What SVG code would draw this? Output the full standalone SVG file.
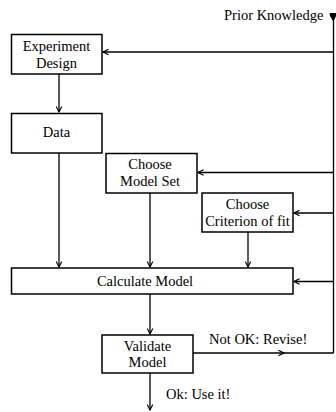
<svg xmlns="http://www.w3.org/2000/svg" width="336" height="412" viewBox="0 0 336 412">
<style>
.box{fill:#fff;stroke:#000;stroke-width:1.5}
.ln{fill:none;stroke:#000;stroke-width:1.3}
.t{font-family:'Liberation Serif','Times New Roman','DejaVu Serif',serif;font-size:14.5px;fill:#000}
.c{text-anchor:middle}
</style>
<defs>
<marker id="ah" viewBox="0 0 10 10" refX="9" refY="5" markerWidth="7" markerHeight="7" markerUnits="userSpaceOnUse" orient="auto">
<path d="M1,1 L9,5 L1,9" fill="none" stroke="#000" stroke-width="1.6"/>
</marker>
</defs>
<g id="connectors">
<path class="ln" d="M333.5,20 V353"/>
<path d="M329.5,13 L336,13 L336,16 L333.5,22 L330,16 Z" fill="#000"/>
<path class="ln" d="M333.5,52 H103" marker-end="url(#ah)"/>
<path class="ln" d="M333.5,172.5 H198" marker-end="url(#ah)"/>
<path class="ln" d="M333.5,213 H294" marker-end="url(#ah)"/>
<path class="ln" d="M333.5,281.5 H294" marker-end="url(#ah)"/>
<path class="ln" d="M59,74 V112" marker-end="url(#ah)"/>
<path class="ln" d="M59,153 V267" marker-end="url(#ah)"/>
<path class="ln" d="M150,193 V267" marker-end="url(#ah)"/>
<path class="ln" d="M248,232 V267" marker-end="url(#ah)"/>
<path class="ln" d="M150,294 V334" marker-end="url(#ah)"/>
<path class="ln" d="M193,353 H284" marker-end="url(#ah)"/>
<path class="ln" d="M284,353 H333.5"/>
<path class="ln" d="M150,373 V410" marker-end="url(#ah)"/>
<text class="t" x="224" y="20">Prior Knowledge</text>
<text class="t" x="209" y="344">Not OK: Revise!</text>
<text class="t" x="166" y="399">Ok: Use it!</text>
</g>
<g id="experiment">
<rect class="box" x="11.5" y="34.5" width="90.5" height="39.5"/>
<text class="t c" x="56.5" y="51">Experiment</text>
<text class="t c" x="56.5" y="68">Design</text>
</g>
<g id="data">
<rect class="box" x="11.5" y="113.5" width="90.5" height="39.5"/>
<text class="t c" x="56.5" y="137">Data</text>
</g>
<g id="modelset">
<rect class="box" x="106" y="153.5" width="91" height="39.5"/>
<text class="t c" x="150" y="169">Choose</text>
<text class="t c" x="150" y="186">Model Set</text>
</g>
<g id="criterion">
<rect class="box" x="202" y="193" width="91" height="39"/>
<text class="t c" x="247.5" y="208.5">Choose</text>
<text class="t c" x="247.5" y="225.5">Criterion of fit</text>
</g>
<g id="calculate">
<rect class="box" x="11.5" y="268" width="281.5" height="26"/>
<text class="t c" x="145" y="286">Calculate Model</text>
</g>
<g id="validate">
<rect class="box" x="102" y="335" width="91" height="38"/>
<text class="t c" x="147.5" y="350.5">Validate</text>
<text class="t c" x="147.5" y="367">Model</text>
</g>
</svg>
